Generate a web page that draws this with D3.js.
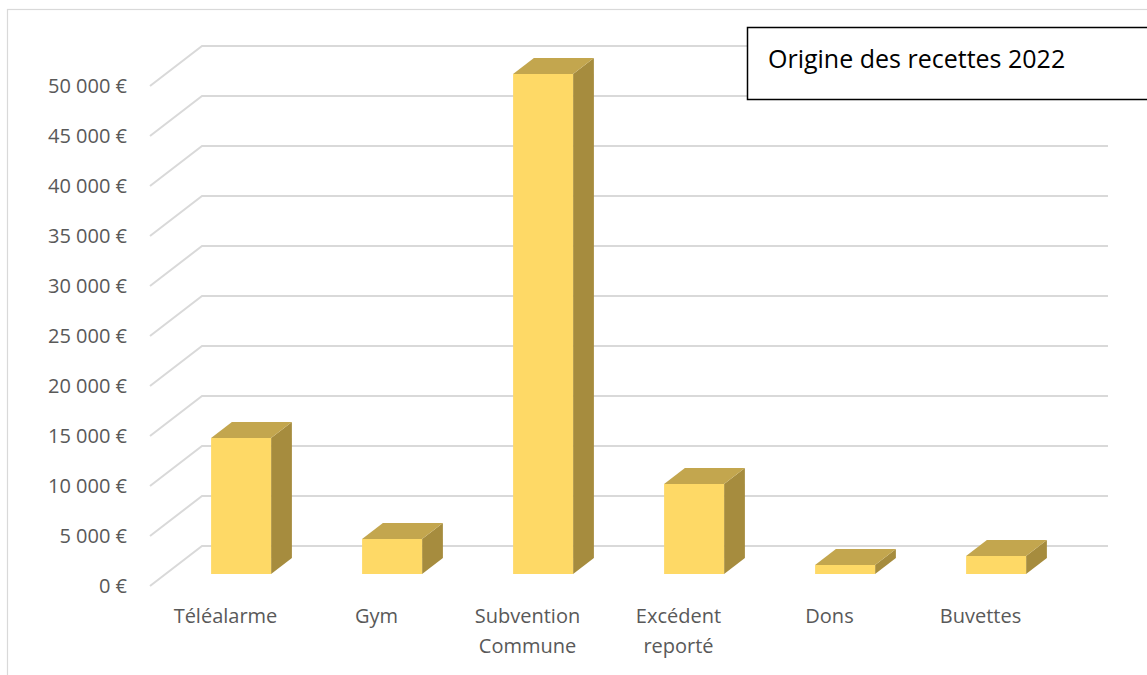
<!DOCTYPE html>
<html>
<head>
<meta charset="utf-8">
<script src="https://cdn.jsdelivr.net/npm/d3@7"></script>
<style>
  body { margin: 0; background: #fff; }
  svg { display: block; }
</style>
</head>
<body>
<div id="chart"></div>
<script>
// data
const categories = ["Téléalarme", "Gym", "Subvention Commune", "Excédent reporté", "Dons", "Buvettes"];
const categoryLines = [["Téléalarme"], ["Gym"], ["Subvention", "Commune"], ["Excédent", "reporté"], ["Dons"], ["Buvettes"]];
const values = [13600, 3500, 50000, 9000, 900, 1800];
const yTicks = [0, 5000, 10000, 15000, 20000, 25000, 30000, 35000, 40000, 45000, 50000];
const title = "Origine des recettes 2022";

const W = 1147, H = 675;
// depth of the 3d box (front -> back)
const depth = {dx: 52, dy: -40};
// bars sit between these depth fractions
const barD0 = 0.3, barD1 = 0.7;

const svg = d3.select('#chart')
  .append("svg")
    .attr("width", W)
    .attr("height", H)
    .style("font-family", "'Open Sans', sans-serif");

// chart frame
svg.append("rect")
  .attr("x", 7.5).attr("y", 9.5)
  .attr("width", W + 20).attr("height", H + 20)
  .attr("fill", "none")
  .attr("stroke", "#d9d9d9")
  .attr("stroke-width", 1.2);

// scales in the front plane
const x = d3.scaleBand()
  .domain(categories)
  .range([150, 1056])
  .paddingInner(0)
  .paddingOuter(0);

const y = d3.scaleLinear()
  .domain([0, 50000])
  .range([586, 86]);

const shift = (d) => [d * depth.dx, d * depth.dy];

const fmt = v => d3.format(",")(v).replace(/,/g, " ") + " €";

// gridlines: diagonal on left wall + back line
const grid = svg.append("g")
  .attr("stroke", "#d9d9d9")
  .attr("stroke-width", 2)
  .attr("fill", "none");

yTicks.forEach(v => {
  const x0 = x.range()[0], y0 = y(v);
  const [sx, sy] = shift(1);
  grid.append("path")
    .attr("d", `M${x0},${y0}L${x0 + sx},${y0 + sy}L${x.range()[1] + sx},${y0 + sy}`);
});

// y axis labels
svg.append("g")
  .selectAll("text")
  .data(yTicks)
  .join("text")
    .attr("x", 127)
    .attr("y", d => y(d) + 7)
    .attr("text-anchor", "end")
    .attr("fill", "#595959")
    .style("font-size", "20px")
    .text(fmt);

// bars
const bw = 60;
const bars = svg.append("g")
  .selectAll("g")
  .data(categories.map((c, i) => ({c, v: values[i]})))
  .join("g");

bars.each(function(d) {
  const g = d3.select(this);
  const cx = x(d.c) + x.bandwidth() / 2;
  const [fx, fy] = shift(barD0);
  const [bx, by] = shift(barD1);
  const l = cx - bw / 2 + fx, r = cx + bw / 2 + fx;
  const top = y(d.v) + fy, bot = y(0) + fy;
  const ddx = bx - fx, ddy = by - fy;
  // side
  g.append("path")
    .attr("d", `M${r},${top}L${r + ddx},${top + ddy}L${r + ddx},${bot + ddy}L${r},${bot}Z`)
    .attr("fill", "#a68c3e");
  // top
  g.append("path")
    .attr("d", `M${l},${top}L${l + ddx},${top + ddy}L${r + ddx},${top + ddy}L${r},${top}Z`)
    .attr("fill", "#c3a64e");
  // front
  g.append("rect")
    .attr("x", l).attr("y", top)
    .attr("width", r - l).attr("height", bot - top)
    .attr("fill", "#fed966");
});

// category labels
const labels = svg.append("g")
  .selectAll("text")
  .data(categories.map((c, i) => ({c, lines: categoryLines[i]})))
  .join("text")
    .attr("text-anchor", "middle")
    .attr("fill", "#595959")
    .style("font-size", "20px");

labels.selectAll("tspan")
  .data(d => d.lines.map(t => ({t, c: d.c})))
  .join("tspan")
    .attr("x", d => x(d.c) + x.bandwidth() / 2)
    .attr("y", (d, i) => 623 + i * 30)
    .text(d => d.t);

// title box
svg.append("rect")
  .attr("x", 747.5).attr("y", 27.5)
  .attr("width", 420).attr("height", 72)
  .attr("fill", "#fff")
  .attr("stroke", "#000")
  .attr("stroke-width", 1.5);

svg.append("text")
  .attr("x", 768)
  .attr("y", 68)
  .attr("fill", "#000")
  .style("font-size", "25px")
  .text(title);
</script>
</body>
</html>
